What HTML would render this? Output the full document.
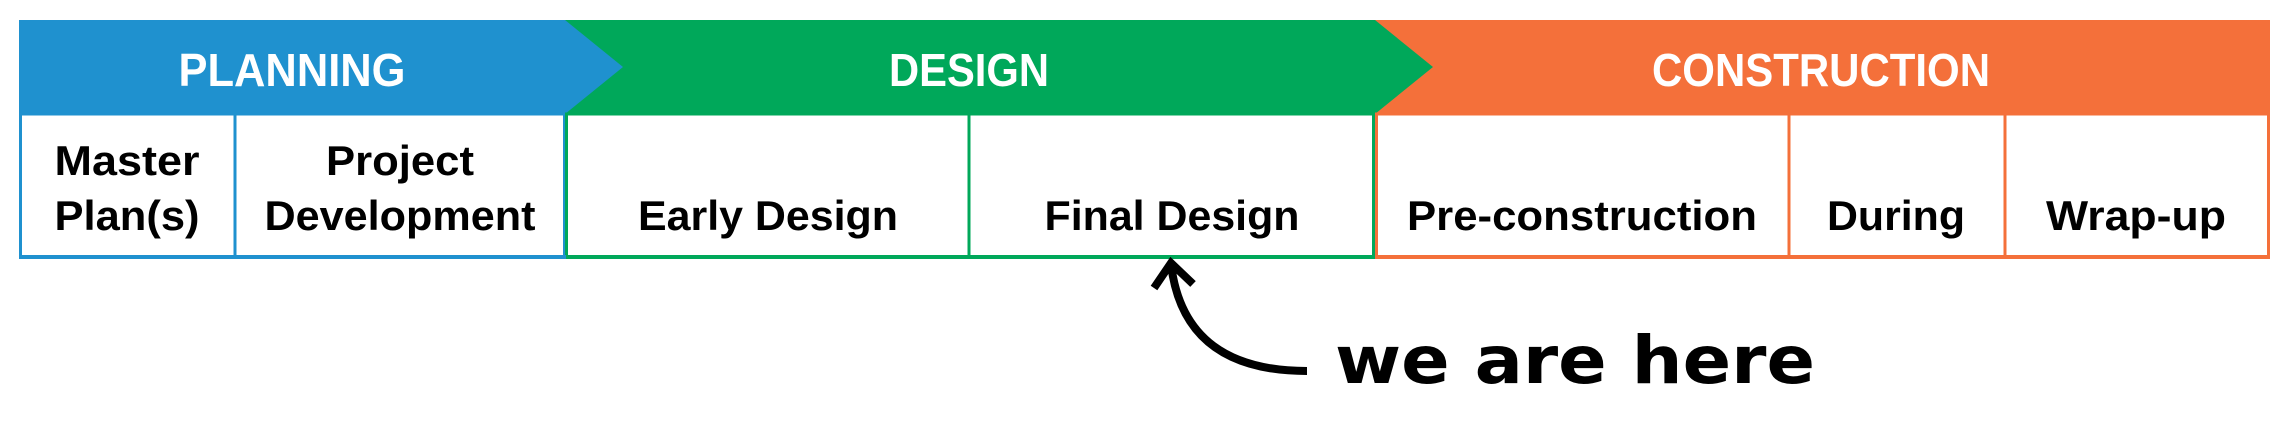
<!DOCTYPE html>
<html><head><meta charset="utf-8"><style>
html,body{margin:0;padding:0;background:#fff;width:2284px;height:424px;overflow:hidden}
svg{display:block}
.h{font-family:"Liberation Sans Narrow","Liberation Sans",sans-serif;font-weight:bold;fill:#fff;font-size:46px;text-anchor:middle}
.c{font-family:"Liberation Sans Narrow","Liberation Sans",sans-serif;font-weight:bold;fill:#000;font-size:42px;text-anchor:middle}
.w{font-family:"DejaVu Sans","Liberation Sans",sans-serif;font-weight:bold;fill:#000;font-size:66px}
</style></head><body>
<svg width="2284" height="424" viewBox="0 0 2284 424">
<rect x="1375" y="20" width="895" height="94" fill="#f4703a"/>
<polygon points="565,20 1375,20 1433,67 1375,114 565,114" fill="#00a85a"/>
<polygon points="19,20 565,20 623,67 565,114 19,114" fill="#1f91cf"/>
<g fill="none" stroke-width="3">
<rect x="20.5" y="114" width="544" height="142.5" stroke="#1f91cf"/>
<line x1="235" y1="114" x2="235" y2="257" stroke="#1f91cf"/>
<rect x="566.5" y="114" width="807" height="142.5" stroke="#00a85a"/>
<line x1="969" y1="114" x2="969" y2="257" stroke="#00a85a"/>
<rect x="1376.5" y="114" width="892" height="142.5" stroke="#f4703a"/>
<line x1="1789" y1="114" x2="1789" y2="257" stroke="#f4703a"/>
<line x1="2005" y1="114" x2="2005" y2="257" stroke="#f4703a"/>
</g>
<rect x="19" y="255" width="547" height="4" fill="#1f91cf"/>
<rect x="566" y="255" width="809" height="4" fill="#00a85a"/>
<rect x="1375" y="255" width="895" height="4" fill="#f4703a"/>
<text class="h" x="292" y="86" textLength="227" lengthAdjust="spacingAndGlyphs">PLANNING</text>
<text class="h" x="969" y="86" textLength="160" lengthAdjust="spacingAndGlyphs">DESIGN</text>
<text class="h" x="1821" y="86" textLength="338" lengthAdjust="spacingAndGlyphs">CONSTRUCTION</text>
<text class="c" x="127" y="175" textLength="145" lengthAdjust="spacingAndGlyphs">Master</text>
<text class="c" x="127" y="230" textLength="145" lengthAdjust="spacingAndGlyphs">Plan(s)</text>
<text class="c" x="400" y="175" textLength="148" lengthAdjust="spacingAndGlyphs">Project</text>
<text class="c" x="400" y="230" textLength="271" lengthAdjust="spacingAndGlyphs">Development</text>
<text class="c" x="768" y="230" textLength="260" lengthAdjust="spacingAndGlyphs">Early Design</text>
<text class="c" x="1172" y="230" textLength="255" lengthAdjust="spacingAndGlyphs">Final Design</text>
<text class="c" x="1582" y="230" textLength="350" lengthAdjust="spacingAndGlyphs">Pre-construction</text>
<text class="c" x="1896" y="230" textLength="138" lengthAdjust="spacingAndGlyphs">During</text>
<text class="c" x="2136" y="230" textLength="180" lengthAdjust="spacingAndGlyphs">Wrap-up</text>
<path d="M1307,371 C1230,371 1180,340 1171,264" fill="none" stroke="#000" stroke-width="8"/>
<path d="M1154,288 L1171,263 L1193,284" fill="none" stroke="#000" stroke-width="8"/>
<text class="w" x="1335" y="383" textLength="480" lengthAdjust="spacingAndGlyphs">we are here</text>
</svg>
</body></html>
